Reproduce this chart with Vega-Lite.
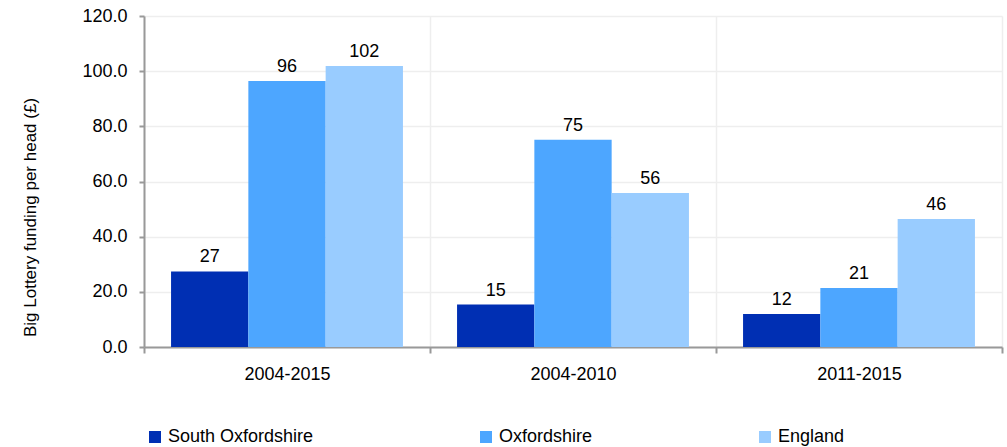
{
  "$schema": "https://vega.github.io/schema/vega-lite/v6.json",
  "width": 858,
  "height": 331,
  "autosize": "none",
  "padding": {"left": 144, "top": 16, "right": 5, "bottom": 100},
  "background": "white",
  "config": {
    "font": "Liberation Sans",
    "view": {"stroke": null},
    "axis": {"labelFont": "Liberation Sans", "titleFont": "Liberation Sans", "labelColor": "#000", "titleColor": "#000", "labelFontSize": 18, "titleFontSize": 17, "titleFontWeight": "normal"}
  },
  "data": {
    "values": [
      {"period": "2004-2015", "area": "South Oxfordshire", "value": 27.4},
      {"period": "2004-2015", "area": "Oxfordshire", "value": 96.4},
      {"period": "2004-2015", "area": "England", "value": 101.9},
      {"period": "2004-2010", "area": "South Oxfordshire", "value": 15.4},
      {"period": "2004-2010", "area": "Oxfordshire", "value": 75.1},
      {"period": "2004-2010", "area": "England", "value": 55.8},
      {"period": "2011-2015", "area": "South Oxfordshire", "value": 12.0},
      {"period": "2011-2015", "area": "Oxfordshire", "value": 21.4},
      {"period": "2011-2015", "area": "England", "value": 46.4}
    ]
  },
  "encoding": {
    "x": {
      "field": "period", "type": "nominal", "sort": ["2004-2015", "2004-2010", "2011-2015"],
      "scale": {"paddingInner": 0, "paddingOuter": 0},
      "axis": {"title": null, "labelAngle": 0, "domainColor": "#999", "domainWidth": 2, "tickColor": "#999", "tickWidth": 2, "tickSize": 6, "tickBand": "extent", "grid": true, "gridColor": "#eeeeee", "gridWidth": 1.5, "labelPadding": 12}
    },
    "xOffset": {
      "field": "area", "type": "nominal", "sort": ["South Oxfordshire", "Oxfordshire", "England"],
      "scale": {"paddingInner": 0, "paddingOuter": 0.35}
    },
    "y": {
      "field": "value", "type": "quantitative",
      "scale": {"domain": [0, 120], "nice": false},
      "axis": {"title": "Big Lottery funding per head (£)", "values": [0, 20, 40, 60, 80, 100, 120], "format": ".1f", "domainColor": "#999", "domainWidth": 2, "tickColor": "#999", "tickWidth": 2, "tickSize": 5, "labelPadding": 12, "gridColor": "#eeeeee", "gridWidth": 1.5, "titleAngle": -90, "titleBaseline": "middle", "titleAlign": "center", "titleX": -114, "titleY": 201}
    }
  },
  "layer": [
    {
      "mark": {"type": "bar"},
      "encoding": {
        "color": {
          "field": "area", "type": "nominal", "sort": ["South Oxfordshire", "Oxfordshire", "England"],
          "scale": {"domain": ["South Oxfordshire", "Oxfordshire", "England"], "range": ["#002FB3", "#4DA6FF", "#99CCFF"]},
          "legend": {"title": null, "orient": "none", "legendX": 2, "legendY": 412, "direction": "horizontal", "columns": 3, "columnPadding": 163, "symbolType": "square", "symbolSize": 144, "symbolStrokeWidth": 0, "labelFontSize": 18, "labelFont": "Liberation Sans", "labelColor": "#000", "labelLimit": 300}
        }
      }
    },
    {
      "mark": {"type": "text", "dy": -14, "fontSize": 18, "color": "#000", "font": "Liberation Sans"},
      "encoding": {
        "text": {"field": "value", "type": "quantitative", "format": ".0f"}
      }
    }
  ]
}
